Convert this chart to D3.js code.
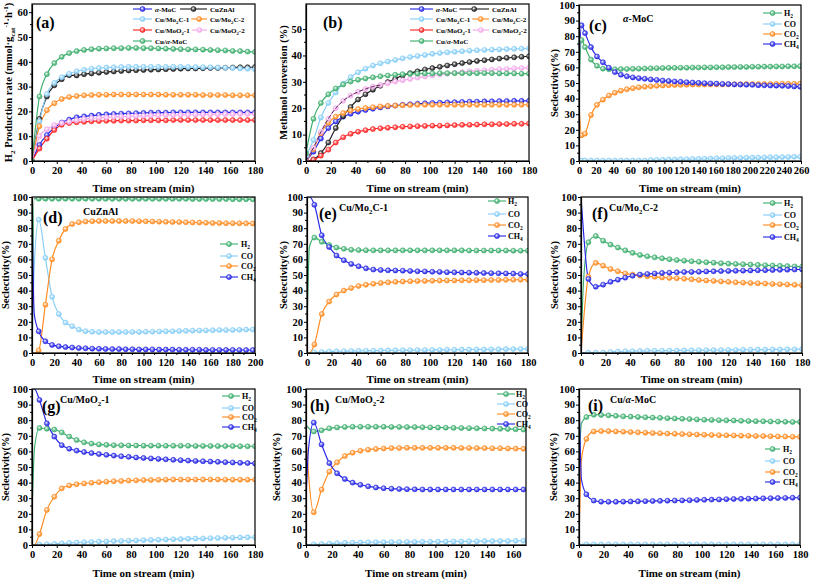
<!DOCTYPE html>
<html lang="en">
<head>
<meta charset="utf-8">
<title>Catalyst tests: H2 rate, methanol conversion, selectivity</title>
<script src="https://d3js.org/d3.v7.min.js"></script>
<style>
  body { margin: 0; background: #fff; }
  svg text { font-family: "Liberation Serif", "Times New Roman", serif; font-weight: bold; }
</style>
</head>
<body>
<script>
// ---- time axes (min) ----
var time180 = [0,6,12,18,24,30,36,42,48,54,60,66,72,78,84,90,96,102,108,114,120,126,132,138,144,150,156,162,168,174,180];
var time180b = [0,2,6,12,18,24,30,36,42,48,54,60,66,72,78,84,90,96,102,108,114,120,126,132,138,144,150,156,162,168,174,180];
var timeC = [0,3,7,14,21,28,35,42,49,56,63,70,77,84,91,98,105,112,119,126,133,140,147,154,161,168,175,182,189,196,203,210,217,224,231,238,245,252,259];
var timeD = [0,2,6,12,18,24,30,36,42,48,54,60,66,72,78,84,90,96,102,108,114,120,126,132,138,144,150,156,162,168,174,180,186,192,198];
var timeH = [0,2,6,12,18,24,30,36,42,48,54,60,66,72,78,84,90,96,102,108,114,120,126,132,138,144,150,156,162,168];

// ---- tick labels ----
var ticks180 = [0,20,40,60,80,100,120,140,160,180];
var ticks200 = [0,20,40,60,80,100,120,140,160,180,200];
var ticks260 = [0,20,40,60,80,100,120,140,160,180,200,220,240,260];
var ticks160 = [0,20,40,60,80,100,120,140,160];
var ticksRate = [0,10,20,30,40,50,60];
var ticksConv = [0,10,20,30,40,50];
var ticksSel = [0,10,20,30,40,50,60,70,80,90,100];

// ---- (a) H2 production rate ----
var h2_aMoC   = [0,6.5,10.5,13.3,15.5,16.7,17.6,18,18.3,18.6,18.8,19,19.1,19.2,19.3,19.4,19.5,19.5,19.5,19.6,19.6,19.6,19.6,19.6,19.6,19.6,19.6,19.6,19.6,19.6,19.6];
var h2_CuZnAl = [0,17,26,30.5,33,34.6,34.5,35,35.3,35.6,35.9,36.1,36.3,36.5,36.6,36.7,36.8,36.9,37,37.1,37.2,37.3,37.3,37.4,37.5,37.5,37.6,37.7,37.8,37.8,37.9];
var h2_Mo2C1  = [0,16,27,31.5,33.8,35.2,36.2,36.8,37.2,37.5,37.7,37.8,37.9,38,38,38,38,38,38,38,38,37.9,37.9,37.8,37.8,37.7,37.6,37.5,37.3,37.2,37];
var h2_Mo2C2  = [0,14,20.5,23.3,25,25.8,26.2,26.5,26.6,26.7,26.7,26.8,26.8,26.8,26.8,26.8,26.8,26.8,26.7,26.7,26.7,26.7,26.7,26.6,26.6,26.6,26.6,26.5,26.5,26.5,26.5];
var h2_MoO21  = [0,5,9,12.5,14.6,15.3,15.6,15.8,16,16.1,16.2,16.2,16.3,16.3,16.3,16.4,16.4,16.4,16.4,16.5,16.5,16.5,16.5,16.5,16.5,16.5,16.5,16.5,16.5,16.5,16.5];
var h2_MoO22  = [0,10,12.8,14.5,15.3,15.8,16.4,16.9,17.2,17.4,17.6,17.8,17.9,18,18.1,18.2,18.3,18.4,18.5,18.5,18.6,18.6,18.7,18.7,18.8,18.8,18.9,18.9,19,19,19];
var h2_CuaMoC = [0,26,35,39.5,42,43.5,44.3,44.8,45.1,45.3,45.4,45.5,45.5,45.6,45.6,45.5,45.5,45.4,45.3,45.2,45.1,45,45,44.9,44.8,44.7,44.6,44.4,44.3,44.1,44];

// ---- (b) methanol conversion ----
var conv_aMoC   = [0,3.5,8.5,12.5,15,16.8,17.9,18.7,19.3,19.8,20.3,20.7,21,21.3,21.5,21.7,21.9,22,22.1,22.2,22.3,22.4,22.5,22.5,22.6,22.6,22.7,22.7,22.8,22.8,22.8];
var conv_CuZnAl = [0,0.6,3,7,12.5,17,20.5,23.3,25.3,27,28.5,29.9,31.2,32.4,33.3,34,34.7,35.2,35.7,36.2,36.7,37.1,37.5,37.9,38.2,38.5,38.8,39.1,39.3,39.5,39.7];
var conv_Mo2C1  = [2,8,16.5,22,26,29.3,31.8,33.6,35,36.2,37,37.7,38.3,38.9,39.4,39.8,40.2,40.6,40.9,41.2,41.4,41.6,41.8,42,42.1,42.2,42.3,42.4,42.5,42.6,42.7];
var conv_Mo2C2  = [0,4.5,10.5,14.5,16.8,18.2,19.1,19.7,20.1,20.4,20.7,20.9,21,21.1,21.2,21.3,21.3,21.3,21.3,21.3,21.3,21.3,21.3,21.3,21.3,21.3,21.3,21.3,21.3,21.3,21.3];
var conv_MoO21  = [0,0.5,2,4.3,7,9,10.3,11.1,11.7,12.1,12.4,12.6,12.8,13,13.1,13.2,13.3,13.4,13.4,13.5,13.6,13.7,13.7,13.8,13.9,13.9,14,14,14.1,14.1,14.2];
var conv_MoO22  = [0,5,11,16,20,22.8,24.8,26.2,27.3,28.2,28.8,29.5,30.1,30.6,31.1,31.6,32,32.4,32.8,33.1,33.4,33.7,34,34.2,34.4,34.6,34.8,34.9,35.1,35.2,35.3];
var conv_CuaMoC = [3,16,22,25.3,27.5,29,30.1,30.8,31.3,31.7,32.1,32.4,32.7,32.9,33,33.1,33.2,33.2,33.3,33.3,33.3,33.3,33.3,33.3,33.3,33.3,33.2,33.2,33.2,33.1,33.1];

// ---- (c) α-MoC selectivity ----
var sel_c_H2  = [46.6,77.5,73,65,61,59.2,58.8,58.8,58.9,59,59.1,59.2,59.3,59.4,59.5,59.6,59.7,59.7,59.8,59.8,59.9,59.9,60,60,60.1,60.1,60.2,60.2,60.3,60.3,60.4,60.4,60.5,60.5,60.6,60.6,60.7,60.7,60.8];
var sel_c_CO  = [0.3,0.3,0.3,0.3,0.3,0.3,0.3,0.3,0.3,0.3,0.3,0.3,0.3,0.6,0.7,0.8,0.9,1,1.1,1.2,1.3,1.4,1.5,1.6,1.7,1.8,1.9,2,2,2.1,2.2,2.2,2.3,2.4,2.4,2.5,2.6,2.7,2.8];
var sel_c_CO2 = [37,16.5,17.5,29.5,36,39.3,42,43.8,45.1,46,46.7,47.2,47.6,47.9,48.2,48.4,48.6,48.7,48.8,48.9,49,49,49,49.1,49.1,49.1,49.2,49.2,49.2,49.3,49.3,49.3,49.4,49.4,49.4,49.5,49.5,49.5,49.6];
var sel_c_CH4 = [63.7,87,82,73,67,63.3,59.8,57,55.3,54.3,53.6,53.1,52.7,52.3,52,51.6,51.3,51,50.8,50.5,50.3,50.1,49.9,49.7,49.6,49.4,49.3,49.1,49,48.9,48.8,48.6,48.5,48.4,48.3,48.2,48,47.8,47.6];

// ---- (d) CuZnAl ----
var sel_d_H2  = [0,99,98.9,98.9,98.9,98.9,98.9,98.9,98.9,98.9,98.9,98.9,98.8,98.8,98.8,98.8,98.8,98.8,98.8,98.8,98.8,98.8,98.8,98.8,98.8,98.7,98.7,98.7,98.7,98.7,98.7,98.6,98.6,98.6,98.5];
var sel_d_CO  = [0,55,85.5,61,36,25,19.5,17.2,15,14,13.6,13.4,13.4,13.4,13.4,13.4,13.5,13.5,13.6,13.7,13.8,13.9,14,14.1,14.2,14.3,14.4,14.5,14.6,14.7,14.7,14.8,14.9,15,15];
var sel_d_CO2 = [0,0,1.7,31,60,72,79.5,82.7,83.8,84.3,84.5,84.6,84.6,84.6,84.6,84.6,84.6,84.5,84.4,84.3,84.2,84.1,84,83.9,83.8,83.7,83.6,83.5,83.4,83.3,83.2,83.2,83.1,83.1,83];
var sel_d_CH4 = [100,25,13.9,7.5,5.2,4.3,3.8,3.5,3.2,3,2.8,2.7,2.6,2.5,2.5,2.4,2.4,2.3,2.3,2.3,2.2,2.2,2.2,2.1,2.1,2.1,2.1,2,2,2,2,2,1.9,1.9,1.9];

// ---- (e) Cu/Mo2C-1 ----
var sel_e_H2  = [11.5,68,74,71.3,69.2,67.6,66.8,66.2,66,65.9,65.8,65.8,65.8,65.8,65.8,65.8,65.8,65.8,65.8,65.8,65.8,65.8,65.8,65.7,65.7,65.7,65.7,65.7,65.7,65.6,65.6,65.6];
var sel_e_CO  = [0.3,0.3,0.4,0.6,1,1.1,1.2,1.3,1.4,1.5,1.5,1.6,1.7,1.7,1.8,1.8,1.9,1.9,2,2,2.1,2.1,2.2,2.2,2.3,2.3,2.4,2.4,2.5,2.5,2.6,2.6];
var sel_e_CO2 = [0,0,5.5,25,33,37.5,40,41.7,43,43.8,44.4,44.9,45.3,45.6,45.8,46,46.1,46.2,46.3,46.4,46.5,46.5,46.6,46.6,46.7,46.7,46.8,46.8,46.9,46.9,47,47];
var sel_e_CH4 = [100,100,95,75.5,68,62.5,59.5,57.1,55.6,54.3,53.5,53.2,53,52.9,52.8,52.6,52.4,52.3,52.1,52,51.8,51.7,51.6,51.5,51.4,51.3,51.2,51.1,51,50.9,50.7,50.6];

// ---- (f) Cu/Mo2C-2 ----
var sel_f_H2  = [0,45,71,75,72,69.5,67.6,65.8,64.2,62.9,62,61.3,60.7,60.1,59.6,59.2,58.8,58.5,58.2,57.9,57.6,57.3,57.1,56.9,56.7,56.5,56.3,56.1,55.9,55.7,55.5,55.3];
var sel_f_CO  = [0,0.2,0.2,0.2,0.3,0.7,0.9,1.1,1.2,1.3,1.4,1.5,1.5,1.6,1.6,1.7,1.7,1.8,1.8,1.9,1.9,2,2,2.1,2.1,2.2,2.2,2.3,2.3,2.4,2.4,2.5];
var sel_f_CO2 = [0,20,49,57.8,56,53.8,52.4,51,50.3,49.6,49.2,48.8,48.4,48.1,47.9,47.6,47.2,46.8,46.5,46.2,45.9,45.6,45.3,45.1,44.9,44.7,44.5,44.3,44.1,43.9,43.7,43.5];
var sel_f_CH4 = [100,78,47.5,42.5,43.8,45.6,47,48.3,49.5,50.3,50.7,51,51.3,51.5,51.7,51.9,52,52.1,52.3,52.4,52.5,52.6,52.7,52.8,52.9,53,53.1,53.2,53.3,53.4,53.5,53.6];

// ---- (g) Cu/MoO2-1 ----
var sel_g_H2  = [17,62,75,74.5,74,72.2,69.5,67.3,65.8,65,64.5,64.2,64,63.9,63.8,63.8,63.7,63.7,63.7,63.6,63.6,63.6,63.6,63.5,63.5,63.5,63.4,63.4,63.4,63.3,63.3,63.3];
var sel_g_CO  = [0,0,0.3,0.5,0.7,1,1.3,1.6,1.8,2,2.2,2.3,2.5,2.6,2.8,2.9,3.1,3.2,3.4,3.5,3.7,3.8,4,4.1,4.2,4.4,4.5,4.6,4.7,4.8,4.9,5];
var sel_g_CO2 = [0,0,7,22.5,31,36.3,38.2,39,39.5,39.9,40.3,40.6,40.9,41.1,41.3,41.5,41.6,41.7,41.8,41.9,42,42,42,42,42,42,42,41.9,41.9,41.9,41.9,41.9];
var sel_g_CH4 = [100,100,93,78,69.5,64,61.7,60.5,59.6,58.9,58.3,57.8,57.3,56.9,56.5,56.1,55.8,55.5,55.2,54.9,54.6,54.4,54.1,53.9,53.7,53.5,53.3,53.1,52.9,52.7,52.5,52.3];

// ---- (h) Cu/MoO2-2 ----
var sel_h_H2  = [77,75,72.8,73.5,74.8,75.4,75.7,75.8,75.8,75.8,75.8,75.8,75.7,75.7,75.6,75.6,75.5,75.4,75.3,75.2,75.1,75,74.9,74.8,74.7,74.6,74.5,74.4,74.2,74];
var sel_h_CO  = [0.3,0.3,0.4,0.6,0.9,1.2,1.4,1.5,1.6,1.7,1.8,1.8,1.9,1.9,2,2,2.1,2.1,2.2,2.2,2.3,2.3,2.4,2.4,2.5,2.5,2.6,2.6,2.7,2.7];
var sel_h_CO2 = [71.5,45,21,35.5,47,53,57,59.2,60.4,61.1,61.6,61.9,62.1,62.2,62.3,62.3,62.3,62.3,62.3,62.3,62.3,62.2,62.2,62.1,62.1,62,62,61.9,61.8,61.7];
var sel_h_CH4 = [28.5,62,78.5,64.5,52.5,46,42.3,40,38.6,37.6,36.9,36.4,36.1,35.9,35.8,35.7,35.6,35.6,35.6,35.6,35.6,35.6,35.6,35.6,35.6,35.6,35.6,35.6,35.6,35.6];

// ---- (i) Cu/α-MoC ----
var sel_i_H2  = [50,78,82,83.5,83.4,83.1,82.8,82.5,82.3,82.1,81.9,81.7,81.5,81.3,81.1,80.9,80.7,80.5,80.3,80.2,80,79.9,79.8,79.6,79.5,79.4,79.3,79.2,79.1,79,78.9,78.9];
var sel_i_CO  = [0.4,0.4,0.4,0.4,0.4,0.4,0.4,0.4,0.4,0.4,0.4,0.4,0.4,0.4,0.4,0.4,0.4,0.4,0.4,0.4,0.4,0.4,0.4,0.4,0.4,0.4,0.4,0.4,0.4,0.4,0.4,0.4];
var sel_i_CO2 = [0,55,68,72.8,73,73,72.8,72.6,72.4,72.2,72,71.8,71.6,71.4,71.3,71.1,71,70.8,70.7,70.5,70.4,70.3,70.2,70.1,70,69.9,69.8,69.7,69.6,69.5,69.4,69.3];
var sel_i_CH4 = [100,42,32.5,28.5,27.8,27.7,27.7,27.8,27.9,28,28.1,28.2,28.3,28.4,28.5,28.6,28.7,28.9,29,29.1,29.2,29.4,29.5,29.6,29.7,29.8,29.9,30,30.1,30.2,30.3,30.3];

var col = {
  blue: "#2424e6", green: "#3aad6c", light: "#85cdf7", orange: "#ff8a1e",
  red: "#ff2222", pink: "#f2a8ea", black: "#1c1c1c"
};

var svg = d3.select("body").append("svg").attr("width", 813).attr("height", 580);
var defs = svg.append("defs");

// ball-like markers
Object.keys(col).forEach(function(k) {
  var g = defs.append("radialGradient").attr("id", "ball-" + k)
    .attr("cx", "40%").attr("cy", "38%").attr("r", "65%");
  g.append("stop").attr("offset", "0%").attr("stop-color", "#fff");
  g.append("stop").attr("offset", "45%").attr("stop-color", d3.interpolateRgb(col[k], "#fff")(0.35));
  g.append("stop").attr("offset", "100%").attr("stop-color", col[k]);
});

// text with {_sub} {^sup} {iitalic}
function rich(sel, str, fs) {
  var re = /\{([_^i])([^}]*)\}/g, last = 0, m, off = 0;
  function seg(s, k) {
    if (!s) return;
    var t = sel.append("tspan").text(s);
    var target = k === "_" ? 0.3 * fs : (k === "^" ? -0.4 * fs : 0);
    if (target !== off) { t.attr("dy", target - off); off = target; }
    if (k === "_" || k === "^") t.attr("font-size", fs * 0.68);
    if (k === "i") t.attr("font-style", "italic");
  }
  while ((m = re.exec(str))) { seg(str.slice(last, m.index), ""); seg(m[2], m[1]); last = re.lastIndex; }
  seg(str.slice(last), "");
  return sel;
}

function selSeries(h2, co, co2, ch4) {
  return [
    {name: "H{_2}", c: "green", v: h2},
    {name: "CO", c: "light", v: co},
    {name: "CO{_2}", c: "orange", v: co2},
    {name: "CH{_4}", c: "blue", v: ch4}
  ];
}

// column, row of each entry in the two-column legends of (a) and (b)
var legendBoth = [
  [0, 0], [1, 0], [0, 1], [1, 1], [0, 2], [1, 2], [0, 3]
];

var panels = [
  {id: "a", L: 32, R: 255, T: 4, B: 161, xDom: [0, 180], xt: ticks180, yDom: [0, 63.3], yt: ticksRate,
   t: time180, mk: 0, lab: [36, 28], ytx: 12, xty: 192,
   yTitle: "H{_2} Production rate (mmol·g{_cat}{^-1}·h{^-1})",
   series: [
     {name: "{iα}-MoC", c: "blue", v: h2_aMoC},
     {name: "CuZnAl", c: "black", v: h2_CuZnAl},
     {name: "Cu/Mo{_2}C-1", c: "light", v: h2_Mo2C1},
     {name: "Cu/Mo{_2}C-2", c: "orange", v: h2_Mo2C2},
     {name: "Cu/MoO{_2}-1", c: "red", v: h2_MoO21},
     {name: "Cu/MoO{_2}-2", c: "pink", v: h2_MoO22},
     {name: "Cu/{iα}-MoC", c: "green", v: h2_CuaMoC}
   ],
   leg2: {cols: [[133, 152, 155], [180, 207, 210]], rows: [9, 19, 30, 41]}},
  {id: "b", L: 306, R: 529, T: 4, B: 161, xDom: [0, 180], xt: ticks180, yDom: [0, 59.5], yt: ticksConv,
   t: time180, mk: 0, lab: [323, 28], ytx: 287, xty: 192,
   yTitle: "Methanol conversion (%)",
   series: [
     {name: "{iα}-MoC", c: "blue", v: conv_aMoC},
     {name: "CuZnAl", c: "black", v: conv_CuZnAl},
     {name: "Cu/Mo{_2}C-1", c: "light", v: conv_Mo2C1},
     {name: "Cu/Mo{_2}C-2", c: "orange", v: conv_Mo2C2},
     {name: "Cu/MoO{_2}-1", c: "red", v: conv_MoO21},
     {name: "Cu/MoO{_2}-2", c: "pink", v: conv_MoO22, dash: 60},
     {name: "Cu/{iα}-MoC", c: "green", v: conv_CuaMoC}
   ],
   leg2: {cols: [[410, 433, 436], [457, 489, 492]], rows: [9, 19, 30, 41]}},
  {id: "c", L: 579, R: 801, T: 5, B: 161, xDom: [0, 260], xt: ticks260, yDom: [0, 100], yt: ticksSel,
   t: timeC, mk: 3, lab: [589, 31], ytx: 558, xty: 192, title: ["{iα}-MoC", 623, 22],
   series: selSeries(sel_c_H2, sel_c_CO, sel_c_CO2, sel_c_CH4),
   leg: {x1: 763, x2: 782, tx: 784, ys: [13, 24, 34, 44]}},
  {id: "d", L: 32, R: 255, T: 197, B: 353, xDom: [0, 200], xt: ticks200, yDom: [0, 100], yt: ticksSel,
   t: timeD, mk: 5, lab: [43, 223], ytx: 9, xty: 383, title: ["CuZnAl", 83, 215],
   series: selSeries(sel_d_H2, sel_d_CO, sel_d_CO2, sel_d_CH4),
   leg: {x1: 220, x2: 238, tx: 241, ys: [244, 256, 266, 277]}},
  {id: "e", L: 307, R: 528, T: 197, B: 353, xDom: [0, 180], xt: ticks180, yDom: [0, 100], yt: ticksSel,
   t: time180b, mk: 5, lab: [319, 219], ytx: 287, xty: 383, title: ["Cu/Mo{_2}C-1", 339, 211],
   series: selSeries(sel_e_H2, sel_e_CO, sel_e_CO2, sel_e_CH4),
   leg: {x1: 488, x2: 506, tx: 508, ys: [201, 214, 225, 236]}},
  {id: "f", L: 581, R: 802, T: 197, B: 353, xDom: [0, 180], xt: ticks180, yDom: [0, 100], yt: ticksSel,
   t: time180b, mk: 5, lab: [592, 219], ytx: 558, xty: 383, title: ["Cu/Mo{_2}C-2", 609, 211],
   series: selSeries(sel_f_H2, sel_f_CO, sel_f_CO2, sel_f_CH4),
   leg: {x1: 763, x2: 782, tx: 784, ys: [203, 215, 225, 237]}},
  {id: "g", L: 32, R: 255, T: 389, B: 545, xDom: [0, 180], xt: ticks180, yDom: [0, 100], yt: ticksSel,
   t: time180b, mk: 5, lab: [42, 412], ytx: 9, xty: 577, title: ["Cu/MoO{_2}-1", 60, 403],
   series: selSeries(sel_g_H2, sel_g_CO, sel_g_CO2, sel_g_CH4),
   leg: {x1: 222, x2: 240, tx: 242, ys: [396, 408, 417, 427]}},
  {id: "h", L: 306, R: 526, T: 389, B: 545, xDom: [0, 170], xt: ticks160, yDom: [0, 100], yt: ticksSel,
   t: timeH, mk: 5, lab: [310, 411], ytx: 280, xty: 577, title: ["Cu/MoO{_2}-2", 335, 403],
   series: selSeries(sel_h_H2, sel_h_CO, sel_h_CO2, sel_h_CH4),
   leg: {x1: 497, x2: 515, tx: 516, ys: [394, 404, 414, 424], clip: 531}},
  {id: "i", L: 579, R: 800, T: 389, B: 545, xDom: [0, 180], xt: ticks180, yDom: [0, 100], yt: ticksSel,
   t: time180b, mk: 5, lab: [588, 411], ytx: 557, xty: 577, title: ["Cu/{iα}-MoC", 610, 403],
   series: selSeries(sel_i_H2, sel_i_CO, sel_i_CO2, sel_i_CH4),
   leg: {x1: 765, x2: 780, tx: 783, ys: [449, 461, 472, 482]}}
];

function marker(g, cx, cy, c) {
  g.append("circle").attr("cx", cx).attr("cy", cy).attr("r", 2.5)
    .attr("fill", "url(#ball-" + c + ")").attr("stroke", col[c]).attr("stroke-width", 0.6);
}

function legendEntry(g, x1, x2, tx, y, s, fs) {
  g.append("line").attr("x1", x1).attr("x2", x2).attr("y1", y).attr("y2", y)
    .attr("stroke", col[s.c]).attr("stroke-width", 1.1);
  marker(g, (x1 + x2) / 2, y, s.c);
  return rich(g.append("text").attr("x", tx).attr("y", y + 3).attr("font-size", fs), s.name, fs);
}

panels.forEach(function(p) {
  var g = svg.append("g").attr("class", "panel-" + p.id);
  var x = d3.scaleLinear().domain(p.xDom).range([p.L, p.R]);
  var y = d3.scaleLinear().domain(p.yDom).range([p.B, p.T]);

  defs.append("clipPath").attr("id", "clip-" + p.id).append("rect")
    .attr("x", p.L).attr("y", p.T).attr("width", p.R - p.L).attr("height", p.B - p.T);
  var plot = g.append("g").attr("clip-path", "url(#clip-" + p.id + ")");

  var line = d3.line().x(function(d) { return x(d[0]); }).y(function(d) { return y(d[1]); })
    .curve(d3.curveMonotoneX);

  p.series.forEach(function(s) {
    var n = Math.min(p.t.length, s.v.length);
    s.pts = d3.range(n).map(function(i) { return [p.t[i], s.v[i]]; });
    plot.append("path").attr("d", line(s.pts)).attr("fill", "none")
      .attr("stroke", col[s.c]).attr("stroke-width", 1.15);
  });
  p.series.forEach(function(s) {
    s.pts.forEach(function(d) {
      if (d[0] >= p.mk) marker(plot, x(d[0]), y(d[1]), s.c);
    });
    if (s.dash) {
      plot.append("path").attr("d", line(s.pts.filter(function(d) { return d[0] <= s.dash; })))
        .attr("fill", "none").attr("stroke", "#5a2d55").attr("stroke-width", 1)
        .attr("stroke-dasharray", "4,2");
    }
  });

  // frame + axes
  g.append("rect").attr("x", p.L).attr("y", p.T).attr("width", p.R - p.L).attr("height", p.B - p.T)
    .attr("fill", "none").attr("stroke", "#000").attr("stroke-width", 1.2);

  var xa = g.append("g").attr("transform", "translate(0," + p.B + ")")
    .call(d3.axisBottom(x).tickValues(p.xt).tickSize(3).tickSizeOuter(0).tickFormat(d3.format("d")));
  var ya = g.append("g").attr("transform", "translate(" + p.L + ",0)")
    .call(d3.axisLeft(y).tickValues(p.yt).tickSize(3).tickSizeOuter(0).tickFormat(d3.format("d")));
  [xa, ya].forEach(function(a) {
    a.attr("font-family", null).attr("font-size", 10.5);
    a.select(".domain").attr("stroke-width", 1.2);
    a.selectAll(".tick line").attr("stroke-width", 1);
  });
  ya.selectAll(".tick text").attr("x", -4);

  // minor ticks halfway between labelled ticks
  var minorX = p.xt.slice(1).map(function(v, i) { return (v + p.xt[i]) / 2; });
  var minorY = p.yt.slice(1).map(function(v, i) { return (v + p.yt[i]) / 2; });
  g.selectAll(null).data(minorX).enter().append("line")
    .attr("x1", function(d) { return x(d); }).attr("x2", function(d) { return x(d); })
    .attr("y1", p.B).attr("y2", p.B + 2).attr("stroke", "#000");
  g.selectAll(null).data(minorY).enter().append("line")
    .attr("y1", function(d) { return y(d); }).attr("y2", function(d) { return y(d); })
    .attr("x1", p.L).attr("x2", p.L - 2).attr("stroke", "#000");

  g.append("text").attr("x", (p.L + p.R) / 2).attr("y", p.xty).attr("text-anchor", "middle")
    .attr("font-size", 11).text("Time on stream (min)");

  var yt = g.append("text").attr("text-anchor", "middle").attr("font-size", 10.5)
    .attr("transform", "translate(" + p.ytx + "," + ((p.T + p.B) / 2) + ") rotate(-90)");
  rich(yt, p.yTitle || "Seclectivity(%)", 10.5);

  g.append("text").attr("x", p.lab[0]).attr("y", p.lab[1]).attr("font-size", 16)
    .text("(" + p.id + ")");

  if (p.title) {
    rich(g.append("text").attr("x", p.title[1]).attr("y", p.title[2]).attr("font-size", 10),
      p.title[0], 10);
  }

  if (p.leg) {
    var lg = g.append("g");
    if (p.leg.clip) {
      defs.append("clipPath").attr("id", "legclip-" + p.id).append("rect")
        .attr("x", 0).attr("y", 0).attr("width", p.leg.clip).attr("height", 580);
      lg.attr("clip-path", "url(#legclip-" + p.id + ")");
    }
    p.series.forEach(function(s, i) {
      legendEntry(lg, p.leg.x1, p.leg.x2, p.leg.tx, p.leg.ys[i], s, 8);
    });
  }
  if (p.leg2) {
    // left column first, so the right-hand lines can start after the left text
    var lg2 = g.append("g"), rowEnd = {};
    p.series.forEach(function(s, i) {
      if (legendBoth[i][0] !== 0) return;
      var cc = p.leg2.cols[0], r = legendBoth[i][1];
      var t = legendEntry(lg2, cc[0], cc[1], cc[2], p.leg2.rows[r], s, 7);
      rowEnd[r] = cc[2] + t.node().getComputedTextLength();
    });
    p.series.forEach(function(s, i) {
      if (legendBoth[i][0] !== 1) return;
      var cc = p.leg2.cols[1], r = legendBoth[i][1];
      var x1 = Math.max(cc[0], (rowEnd[r] || 0) + 2);
      legendEntry(lg2, x1, cc[1], cc[2], p.leg2.rows[r], s, 7);
    });
  }
});
</script>
</body>
</html>
